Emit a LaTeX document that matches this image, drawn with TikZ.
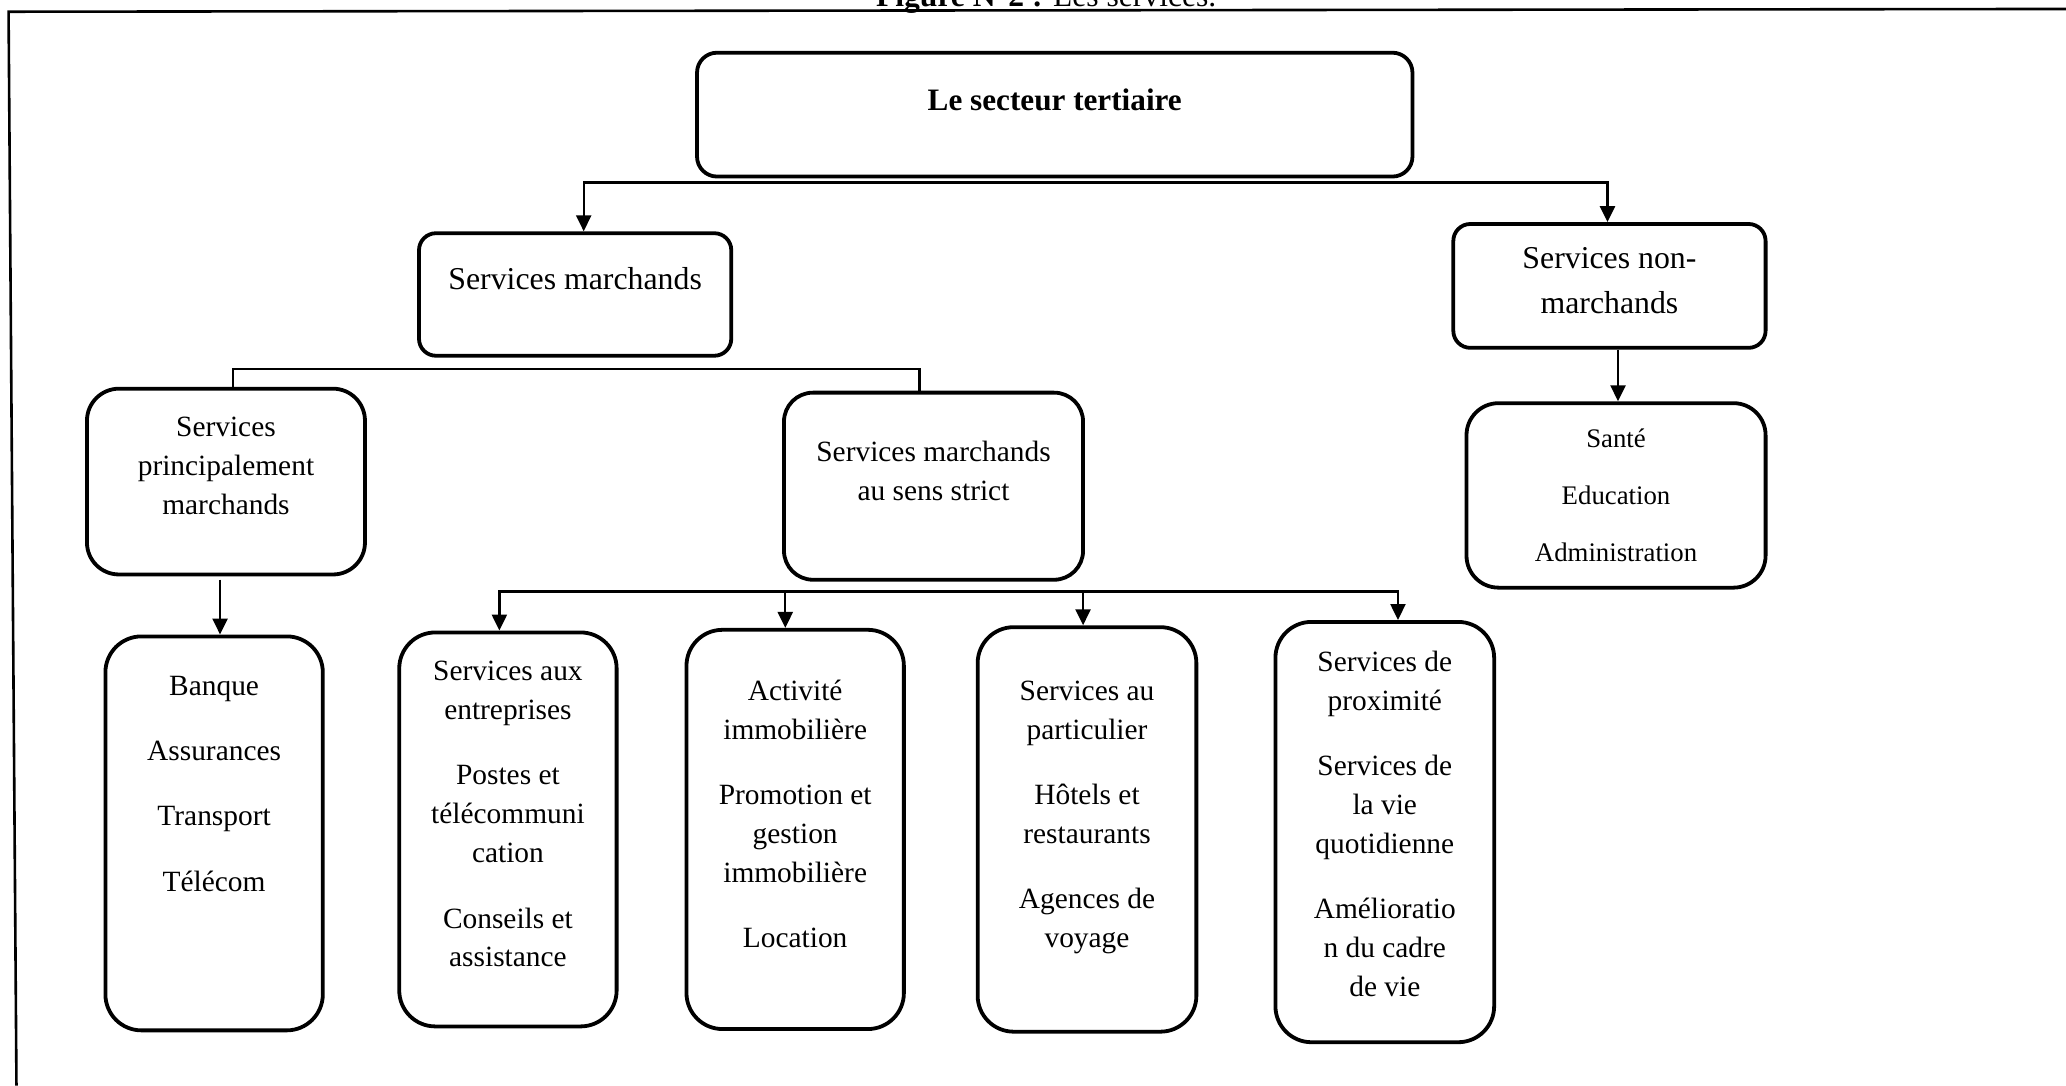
\documentclass[tikz,border=0pt]{standalone}
\usepackage{fontspec}
\setmainfont{Liberation Serif}
\usetikzlibrary{arrows.meta}
% centred lines whose first baseline is the node's base anchor
\newcommand\stack[1]{\begin{tabular}[t]{@{}c@{}}#1\end{tabular}}
\begin{document}
\begin{tikzpicture}[x=0.6588pt,y=-0.6588pt,
  box/.style={draw, line width=1.9pt, rounded corners=#1, inner sep=0pt},
  box/.default=18pt,
  sz/.style 2 args={minimum width=#1*0.6588pt, minimum height=#2*0.6588pt},
  frame/.style={line width=1.3pt},
  conn/.style={line width=1.2pt},
  tip/.style={-{Triangle[length=8pt,width=7.5pt]}},
  tips/.style={{Triangle[length=8pt,width=7.5pt]}-{Triangle[length=8pt,width=7.5pt]}},
  lbl/.style={font=\fontsize{14.7}{19.43}\selectfont, inner sep=0pt, anchor=base},
  lblA/.style={font=\fontsize{15.9}{22.4}\selectfont, inner sep=0pt, anchor=base},
  lblS/.style={font=\fontsize{13.4}{28.3}\selectfont, inner sep=0pt, anchor=base},
  capt/.style={font=\fontsize{15.8}{19}\selectfont, inner sep=0pt, anchor=base}]

\useasboundingbox (0,0) rectangle (1568,824);

% page frame
\coordinate (fTL) at (6.5,8.9);
\coordinate (fTR) at (1568,6.8);
\coordinate (fBL) at (12.5,824);
\draw[frame] (fTR) -- (fTL) -- (fBL);

% caption, sitting on the top rule of the page
\node[capt] (cap) at (794,5.3) {\textbf{Figure N°2 :} Les services.};

% boxes
\node[box=10pt, sz={543}{94}]  (T)    at (800.5,87)    {};
\node[box=8.5pt, sz={237}{93}] (SM)   at (436.5,223.5) {};
\node[box=8.5pt, sz={237}{94}] (SNM)  at (1221.5,217)  {};
\node[box=16pt, sz={211}{141}] (SPM)  at (171.5,365.5) {};
\node[box=14.5pt, sz={227}{142}] (SMSS) at (708.5,369) {};
\node[box=16pt, sz={227}{140}] (SEA)  at (1226.5,376)  {};
\node[box, sz={165}{299}] (B)   at (162.5,632.5) {};
\node[box, sz={165}{299}] (SAE) at (385.5,629.5) {};
\node[box, sz={165}{303}] (AI)  at (603.5,629.5) {};
\node[box, sz={166}{307}] (SAP) at (825,629.5)   {};
\node[box, sz={166}{319}] (SP)  at (1051,631.5)  {};

% box texts
\node[lblA, font=\fontsize{15.6}{19}\selectfont\bfseries] (tT) at (800.5,84) {Le secteur tertiaire};
\node[lblA] (tSM)  at (436.5,220) {Services marchands};
\node[lblA] (tSNM) at (1221.5,204) {\stack{Services non-\\marchands}};
\node[lbl]  (tSPM) at (171.5,331.5) {\stack{Services\\principalement\\marchands}};
\node[lbl]  (tSMSS) at (708.5,350.5) {\stack{Services marchands\\au sens strict}};
\node[lblS] (tSEA) at (1226.5,340) {\stack{Santé\\Education\\Administration}};
\node[lbl]  (tB)   at (162.5,527.5) {\stack{Banque\\[13.3pt]Assurances\\[13.3pt]Transport\\[13.3pt]Télécom}};
\node[lbl]  (tSAE) at (385.5,516.5) {\stack{Services aux\\entreprises\\[13.3pt]Postes et\\télécommuni\\cation\\[13.3pt]Conseils et\\assistance}};
\node[lbl]  (tAI)  at (603.5,531.5) {\stack{Activité\\immobilière\\[13.3pt]Promotion et\\gestion\\immobilière\\[13.3pt]Location}};
\node[lbl]  (tSAP) at (825,531.5) {\stack{Services au\\particulier\\[13.3pt]Hôtels et\\restaurants\\[13.3pt]Agences de\\voyage}};
\node[lbl]  (tSP)  at (1051,509.5) {\stack{Services de\\proximité\\[13.3pt]Services de\\la vie\\quotidienne\\[13.3pt]Amélioratio\\n du cadre\\de vie}};

% connectors
\coordinate (b1L) at (443,138.5);
\coordinate (b1R) at (1220,138.5);
\draw[conn, tips] (b1L |- SM.north) -- (b1L) -- (b1R) -- (b1R |- SNM.north);

\coordinate (b2L) at (177,280);
\coordinate (b2R) at (698,280);
\draw[conn] (b2L |- SPM.north) -- (b2L) -- (b2R) -- (b2R |- SMSS.north);

\coordinate (a1) at (167,440);
\draw[conn, tip] (a1) -- (a1 |- B.north);

\coordinate (b3L) at (379,449);
\coordinate (b3R) at (1061,449);
\coordinate (b3a) at (596,449);
\coordinate (b3b) at (822,449);
\draw[conn, tips] (b3L |- SAE.north) -- (b3L) -- (b3R) -- (b3R |- SP.north);
\draw[conn, tip] (b3a) -- (b3a |- AI.north);
\draw[conn, tip] (b3b) -- (b3b |- SAP.north);

\coordinate (a2) at (1228,300);
\draw[conn, tip] (a2 |- SNM.south) -- (a2 |- SEA.north);
\end{tikzpicture}
\end{document}
